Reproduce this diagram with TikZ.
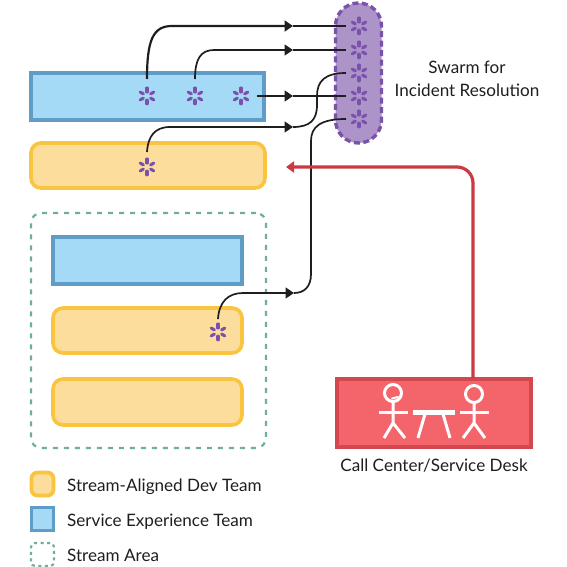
\documentclass[tikz,border=0pt]{standalone}
\usepackage{fontspec}
\setmainfont{Lato}
\usetikzlibrary{arrows.meta}
\definecolor{bfill}{HTML}{A5DAF6}
\definecolor{bline}{HTML}{5F9CC8}
\definecolor{yfill}{HTML}{FDDD9B}
\definecolor{yline}{HTML}{F9C440}
\definecolor{pfill}{HTML}{AC94C8}
\definecolor{pline}{HTML}{7A52AC}
\definecolor{gline}{HTML}{6FAE9B}
\definecolor{rfill}{HTML}{F4646B}
\definecolor{rline}{HTML}{D5474F}
\definecolor{rarrow}{HTML}{C93A42}
\definecolor{ink}{HTML}{1E1E1E}
\tikzset{
  team/.style={draw=bline,fill=bfill,line width=3.6pt,sharp corners},
  aligned/.style={draw=yline,fill=yfill,line width=3.6pt,rounded corners=10pt},
  area/.style={draw=gline,line width=2.2pt,dash pattern=on 5pt off 6pt,rounded corners=10pt},
  swarm/.style={draw=pline,fill=pfill,line width=3.4pt,dash pattern=on 6pt off 3.5pt,rounded corners=23pt},
  desk/.style={draw=rline,fill=rfill,line width=4pt},
  conn/.style={draw=ink,line width=1.7pt},
  tip/.style={-{Triangle[length=8.5pt,width=11pt]}},
  reqarrow/.style={draw=rarrow,line width=3.2pt,rounded corners=16pt,-{Triangle[length=8pt,width=11pt]}},
  icon/.style={draw=white,line width=3pt},
  lab/.style={font=\fontsize{17.1}{20}\selectfont,text=ink,inner sep=0pt},
  petals/.style={circle,minimum size=26pt,inner sep=0pt,outer sep=0pt,path picture={
    \foreach \a in {90,150,...,450}
      \draw[pline,line width=3.1pt,line cap=round] (path picture bounding box.center)++(\a:4.2pt) -- ++(\a:3.6pt);
  }},
  box/.style={inner sep=0pt,outer sep=0pt},
}
\begin{document}
\begin{tikzpicture}[x=1pt,y=-1pt]
\useasboundingbox (0,0) rectangle (566,567);
% stream area
\node[box,area,minimum width=235pt,minimum height=235pt] (streamarea) at (148.5,330.5) {};
% teams
\node[box,team,minimum width=233pt,minimum height=47pt] (svc1) at (147.5,96.5) {};
\node[box,aligned,minimum width=234pt,minimum height=45pt] (dev1) at (148,165.5) {};
\node[box,team,minimum width=189pt,minimum height=47pt] (svc2) at (147.5,260.5) {};
\node[box,aligned,minimum width=189pt,minimum height=45pt] (dev2) at (147.5,330.5) {};
\node[box,aligned,minimum width=189pt,minimum height=46pt] (dev3) at (147.5,402) {};
% swarm
\node[box,swarm,minimum width=46pt,minimum height=140pt] (pill) at (358.5,73) {};
\node[lab,align=center] (swarmlab) at (467,79) {Swarm for\\[2.5pt]Incident Resolution};
% stars
\node[petals] (t1) at (359,26) {};
\node[petals] (t2) at (359,50) {};
\node[petals] (t3) at (359,73) {};
\node[petals] (t4) at (359,96) {};
\node[petals] (t5) at (359,119) {};
\node[petals] (a1) at (147,96) {};
\node[petals] (a2) at (195,96) {};
\node[petals] (a3) at (241,96) {};
\node[petals] (b1) at (147,167) {};
\node[petals] (c1) at (218,332) {};
% mid-line arrow positions
\coordinate (m1) at (293,26);
\coordinate (m2) at (293,50);
\coordinate (m4) at (293,96);
\coordinate (m5) at (293,127);
\coordinate (m6) at (294,293);
% connectors
\draw[conn,line width=2.2pt,tip] ([yshift=4pt]a1.north) .. controls (147,40) and (153,26) .. (172,26) -- (m1);
\draw[conn,line width=2.2pt] (m1) -- (t1.west);
\draw[conn,tip] ([yshift=4pt]a2.north) .. controls (195,60) and (200,50) .. (214,50) -- (m2);
\draw[conn] (m2) -- (t2.west);
\draw[conn,tip] ([xshift=3pt]a3.east) -- (m4);
\draw[conn] (m4) -- (t4.west);
\draw[conn,tip] ([yshift=2pt]b1.north) .. controls (148,136) and (155,127) .. (170,127) -- (m5);
\draw[conn] (m5) .. controls (310,127) and (317,120) .. (317,105) -- (317,96) .. controls (317,81) and (325,73) .. (t3.west);
\draw[conn,tip] (c1.north) .. controls (219,302) and (228,293) .. (243,293) -- (m6);
\draw[conn] (m6) .. controls (304,293) and (311,287) .. (311,274) -- (311,141) .. controls (311,127) and (320,119) .. (t5.west);
% service desk
\node[box,desk,minimum width=194pt,minimum height=68pt] (deskbox) at (433.5,412.5) {};
\coordinate (hit) at (286,167);
\draw[reqarrow] (deskbox.north -| 473,377) -- (473,167) -- (hit);
\node[lab] (desklab) at (434,466) {Call Center/Service Desk};
% icon: left person
\draw[icon] (393,393) circle (8.5pt);
\draw[icon,line width=2pt,line cap=round] (392,398.5) -- (398,397);
\draw[icon] (379,412) -- (408,412);
\draw[icon] (393,402) -- (393,423) (384,438) -- (393,423) -- (405,438);
% icon: table
\draw[icon,line width=5pt] (413,412) -- (455,412);
\draw[icon] (425,414) -- (418,438);
\draw[icon] (443,414) -- (450,438);
% icon: right person
\draw[icon] (474,394) circle (8.5pt);
\draw[icon] (460,412) -- (489,412);
\draw[icon] (474,403) -- (474,423) (463,438) -- (474,423) -- (485,438);
% legend
\node[box,aligned,line width=3.8pt,rounded corners=6pt,minimum width=22pt,minimum height=23pt] (leg1) at (42.5,484) {};
\node[box,team,line width=3.8pt,minimum width=22pt,minimum height=23pt] (leg2) at (42.5,519) {};
\node[box,draw=gline,line width=2.2pt,dash pattern=on 3pt off 3.5pt,rounded corners=4pt,minimum width=23pt,minimum height=23pt] (leg3) at (42.5,554.5) {};
\node[lab,anchor=west] (legt1) at (67,486.5) {Stream-Aligned Dev Team};
\node[lab,anchor=west] (legt2) at (67,521.5) {Service Experience Team};
\node[lab,anchor=west] (legt3) at (67,555.5) {Stream Area};
\end{tikzpicture}
\end{document}
